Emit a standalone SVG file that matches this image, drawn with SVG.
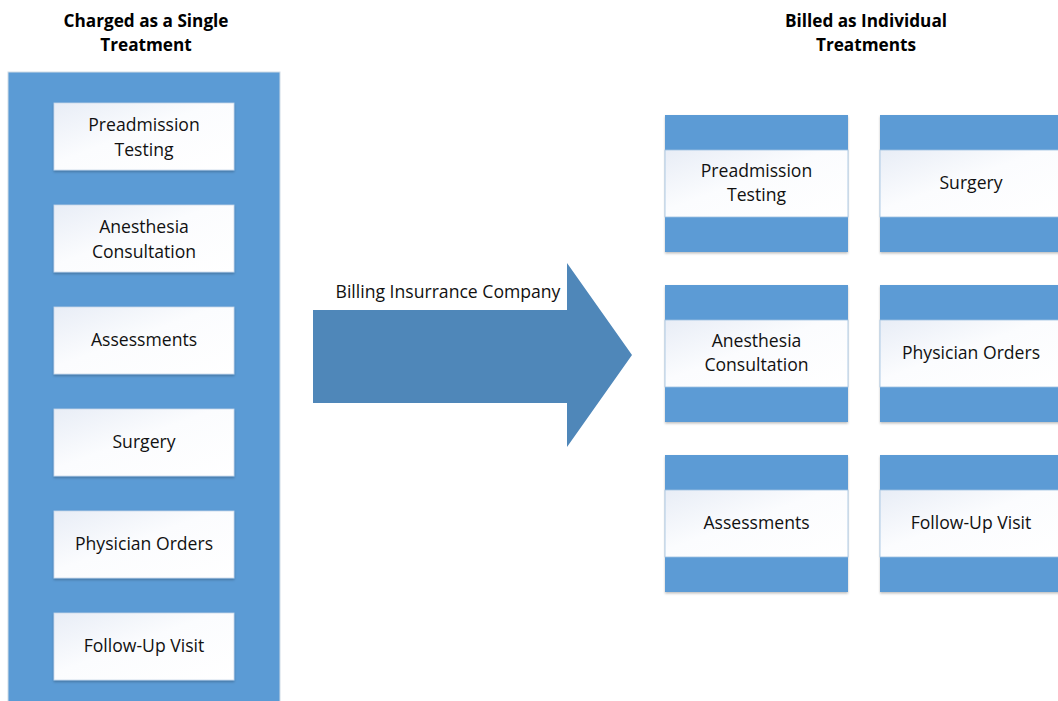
<svg xmlns="http://www.w3.org/2000/svg" width="1058" height="701" viewBox="0 0 1058 701">
  <defs>
    <linearGradient id="cardFill" x1="0" y1="0" x2="1" y2="1">
      <stop offset="0" stop-color="#e8edf6"/>
      <stop offset="0.45" stop-color="#fbfcfe"/>
      <stop offset="1" stop-color="#ffffff"/>
    </linearGradient>
    <filter id="shadow" x="-10%" y="-10%" width="120%" height="130%">
      <feDropShadow dx="0" dy="1.5" stdDeviation="1.2" flood-color="#000" flood-opacity="0.25"/>
    </filter>
  </defs>
  <style>
    .panel { fill: #5b9bd5; stroke: #d0dbe6; stroke-width: 1; }
    .tile { fill: #5b9bd5; filter: url(#shadow); }
    .card { fill: url(#cardFill); stroke: #c7d6e8; stroke-width: 0.8; filter: url(#shadow); }
    .band { fill: url(#cardFill); stroke: #9ec0e2; stroke-width: 0.8; }
    .label { font-family: "Open Sans", "Liberation Sans", sans-serif; font-size: 17.6px; fill: #111; text-anchor: middle; }
    .title { font-family: "Open Sans", "Liberation Sans", sans-serif; font-size: 17.2px; font-weight: bold; fill: #000; text-anchor: middle; }
    .arrow { fill: #4f87b9; }
  </style>

  <rect width="1058" height="701" fill="#ffffff"/>

  <!-- headings -->
  <g id="title-single">
    <text class="title" x="146" y="27">Charged as a Single</text>
    <text class="title" x="146" y="51">Treatment</text>
  </g>
  <g id="title-individual">
    <text class="title" x="866" y="27">Billed as Individual</text>
    <text class="title" x="866" y="51">Treatments</text>
  </g>

  <!-- left: single bundled charge -->
  <g id="bundle">
    <rect class="panel" x="8" y="72" width="272" height="640"/>
    <g id="b-preadmission">
      <rect class="card" x="54" y="103" width="180" height="67"/>
      <text class="label" x="144" y="131">Preadmission</text>
      <text class="label" x="144" y="156">Testing</text>
    </g>
    <g id="b-anesthesia">
      <rect class="card" x="54" y="205" width="180" height="67"/>
      <text class="label" x="144" y="233">Anesthesia</text>
      <text class="label" x="144" y="258">Consultation</text>
    </g>
    <g id="b-assessments">
      <rect class="card" x="54" y="307" width="180" height="67"/>
      <text class="label" x="144" y="346">Assessments</text>
    </g>
    <g id="b-surgery">
      <rect class="card" x="54" y="409" width="180" height="67"/>
      <text class="label" x="144" y="448">Surgery</text>
    </g>
    <g id="b-orders">
      <rect class="card" x="54" y="511" width="180" height="67"/>
      <text class="label" x="144" y="550">Physician Orders</text>
    </g>
    <g id="b-followup">
      <rect class="card" x="54" y="613" width="180" height="67"/>
      <text class="label" x="144" y="652">Follow-Up Visit</text>
    </g>
  </g>

  <!-- connector -->
  <g id="connectors">
    <path class="arrow" d="M313 310 H567 V263 L632 355 L567 447 V403 H313 Z"/>
    <text class="label" x="448" y="298">Billing Insurrance Company</text>
  </g>

  <!-- right: individual charges -->
  <g id="i-preadmission">
    <rect class="tile" x="665" y="115" width="183" height="137"/>
    <rect class="band" x="665" y="150" width="183" height="67"/>
    <text class="label" x="756.5" y="177">Preadmission</text>
    <text class="label" x="756.5" y="201">Testing</text>
  </g>
  <g id="i-surgery">
    <rect class="tile" x="880" y="115" width="183" height="137"/>
    <rect class="band" x="880" y="150" width="183" height="67"/>
    <text class="label" x="971" y="189">Surgery</text>
  </g>
  <g id="i-anesthesia">
    <rect class="tile" x="665" y="285" width="183" height="137"/>
    <rect class="band" x="665" y="320" width="183" height="67"/>
    <text class="label" x="756.5" y="347">Anesthesia</text>
    <text class="label" x="756.5" y="371">Consultation</text>
  </g>
  <g id="i-orders">
    <rect class="tile" x="880" y="285" width="183" height="137"/>
    <rect class="band" x="880" y="320" width="183" height="67"/>
    <text class="label" x="971" y="359">Physician Orders</text>
  </g>
  <g id="i-assessments">
    <rect class="tile" x="665" y="455" width="183" height="137"/>
    <rect class="band" x="665" y="490" width="183" height="67"/>
    <text class="label" x="756.5" y="529">Assessments</text>
  </g>
  <g id="i-followup">
    <rect class="tile" x="880" y="455" width="183" height="137"/>
    <rect class="band" x="880" y="490" width="183" height="67"/>
    <text class="label" x="971" y="529">Follow-Up Visit</text>
  </g>
</svg>
